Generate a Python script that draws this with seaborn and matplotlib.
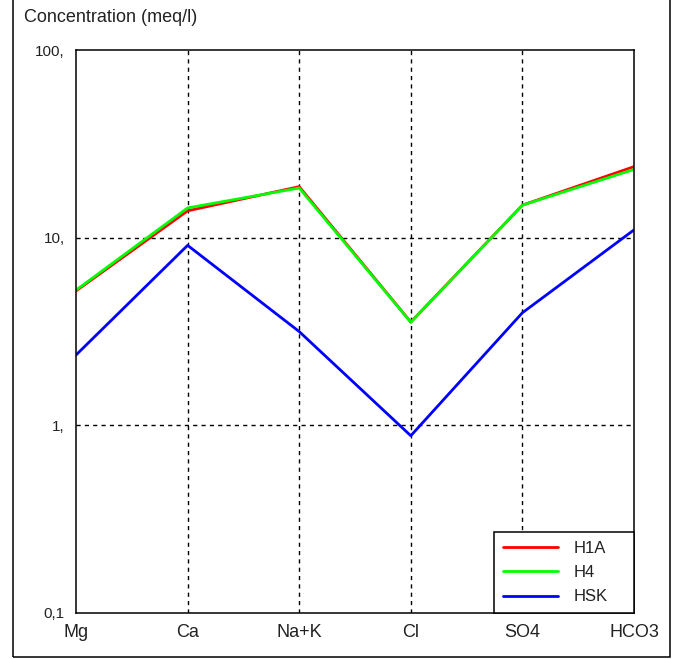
import numpy as np
import pandas as pd
import matplotlib
matplotlib.use("Agg")
import matplotlib.pyplot as plt
import matplotlib.ticker as mticker
from matplotlib.patches import Rectangle
import seaborn as sns

# values (meq/l)
ions = ["Mg", "Ca", "Na+K", "Cl", "SO4", "HCO3"]
h1a = [5.2, 13.9, 18.7, 3.55, 14.9, 23.9]
h4 = [5.25, 14.4, 18.4, 3.54, 14.9, 23.1]
hsk = [2.37, 9.1, 3.16, 0.88, 3.98, 11.0]
samples = ["H1A", "H4", "HSK"]
colors = ["#ff0000", "#00ff00", "#0000ff"]

ytick_vals = [0.1, 1, 10, 100]
ytick_text = ["0,1", "1,", "10,", "100,"]

rows = []
for name, vals in zip(samples, [h1a, h4, hsk]):
    for ion, v in zip(ions, vals):
        rows.append({"ion": ion, "conc": v, "sample": name})
df = pd.DataFrame(rows)

sns.set_style("white")
plt.rcParams["font.family"] = ["Liberation Sans", "DejaVu Sans"]

W, H = 683, 659
fig = plt.figure(figsize=(W / 100, H / 100), dpi=100)
ax = fig.add_axes([76 / W, 1 - 613 / H, 558 / W, 563 / H])

sns.lineplot(data=df, x="ion", y="conc", hue="sample", hue_order=samples,
             palette=colors, sort=False, linewidth=2.0, ax=ax, legend=False)

ax.set_yscale("log")
ax.set_ylim(0.1, 100)
ax.set_xlim(0, len(ions) - 1)
ax.set_xlabel("")
ax.set_ylabel("")

ax.yaxis.set_major_locator(mticker.FixedLocator(ytick_vals))
ax.yaxis.set_major_formatter(mticker.FixedFormatter(ytick_text))
ax.yaxis.set_minor_locator(mticker.LogLocator(base=10, subs=(2, 4, 6, 8)))
ax.yaxis.set_minor_formatter(mticker.NullFormatter())
ax.set_xticks(range(len(ions)))
ax.set_xticklabels(ions)

ax.tick_params(axis="y", which="major", direction="out", length=5, width=1,
               color="black", labelsize=11, pad=3, labelcolor="#222222")
ax.tick_params(axis="y", which="minor", direction="out", length=3, width=1,
               color="black")
ax.tick_params(axis="x", direction="inout", length=7, width=1, color="black",
               labelsize=13, pad=4.5, labelcolor="#222222")

for s in ax.spines.values():
    s.set_visible(True)
    s.set_color("black")
    s.set_linewidth(1.1)

# dashed grid on the inner categories and decades
for i in range(1, len(ions) - 1):
    ax.axvline(i, color="black", lw=1.0, ls=(0, (3, 3)), zorder=0.5)
for v in [1, 10]:
    ax.axhline(v, color="black", lw=1.0, ls=(0, (3, 3)), zorder=0.5)

handles = [plt.Line2D([], [], color=c, lw=2.0) for c in colors]
leg = ax.legend(handles, samples, loc="lower left",
                bbox_to_anchor=(418 / 558, 0, 140 / 558, 81 / 563),
                mode="expand", borderaxespad=0, fancybox=False,
                framealpha=1, edgecolor="black", fontsize=12,
                handlelength=3.3, handletextpad=0.95, labelspacing=0.56,
                borderpad=0.52)
leg.get_frame().set_linewidth(1.1)
for t in leg.get_texts():
    t.set_color("#222222")

fig.text(24 / W, 1 - 18 / H, "Concentration (meq/l)", fontsize=13,
         va="center", ha="left", color="#222222")

# outer panel border
fig.patches.append(Rectangle((12.5 / W, 1 - 657 / H), (670 - 12.5) / W, 1.2,
                             transform=fig.transFigure, fill=False,
                             edgecolor="black", lw=1.1))

fig.savefig("out.png", dpi=100, facecolor="white")
